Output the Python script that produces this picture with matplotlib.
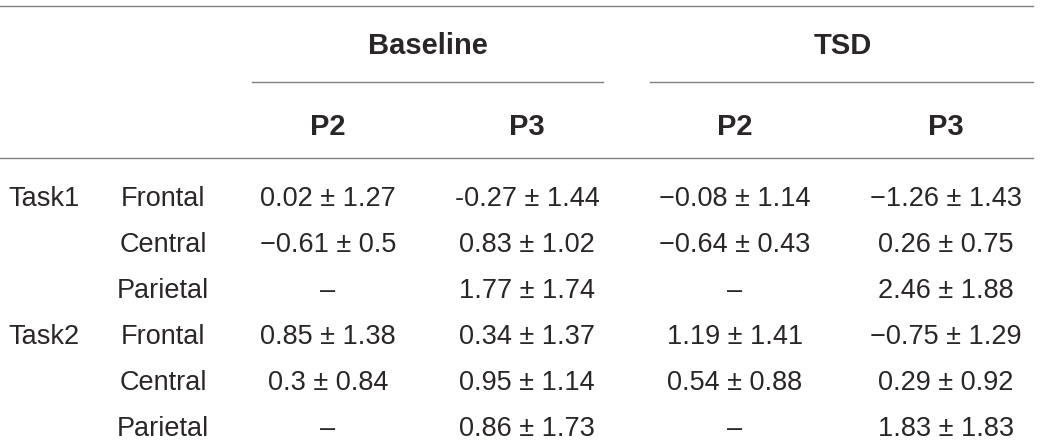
import matplotlib
matplotlib.use("Agg")
import matplotlib.pyplot as plt

groups = ["Baseline", "TSD"]
components = ["P2", "P3", "P2", "P3"]
tasks = ["Task1", "", "", "Task2", "", ""]
regions = ["Frontal", "Central", "Parietal", "Frontal", "Central", "Parietal"]
baseline_p2 = ["0.02 \u00b1 1.27", "\u22120.61 \u00b1 0.5", "\u2013", "0.85 \u00b1 1.38", "0.3 \u00b1 0.84", "\u2013"]
baseline_p3 = ["-0.27 \u00b1 1.44", "0.83 \u00b1 1.02", "1.77 \u00b1 1.74", "0.34 \u00b1 1.37", "0.95 \u00b1 1.14", "0.86 \u00b1 1.73"]
tsd_p2 = ["\u22120.08 \u00b1 1.14", "\u22120.64 \u00b1 0.43", "\u2013", "1.19 \u00b1 1.41", "0.54 \u00b1 0.88", "\u2013"]
tsd_p3 = ["\u22121.26 \u00b1 1.43", "0.26 \u00b1 0.75", "2.46 \u00b1 1.88", "\u22120.75 \u00b1 1.29", "0.29 \u00b1 0.92", "1.83 \u00b1 1.83"]

W, H = 1040, 447
fig = plt.figure(figsize=(W / 100, H / 100), dpi=100)
ax = fig.add_axes([0, 0, 1, 1])
ax.set_xlim(0, W)
ax.set_ylim(H, 0)
ax.axis("off")

font = "Liberation Sans"
txt_color = "#2a2627"
line_color = "#808080"
fs = 19.5
hfs = 21

# horizontal rules
ax.plot([0, 1033], [5.5, 5.5], color=line_color, lw=1.0)
ax.plot([252, 603], [82, 82], color=line_color, lw=1.0)
ax.plot([650, 1033], [82, 82], color=line_color, lw=1.0)
ax.plot([0, 1033], [158, 158], color=line_color, lw=1.0)

# group headers
group_x = [428, 843]
for g, x in zip(groups, group_x):
    ax.text(x, 43, g, ha="center", va="center_baseline", fontsize=hfs, fontweight="bold",
            family=font, color=txt_color)

col_x = [328, 527, 735, 946]
for c, x in zip(components, col_x):
    ax.text(x, 124, c, ha="center", va="center_baseline", fontsize=hfs, fontweight="bold",
            family=font, color=txt_color)

row_y = [196, 242, 288, 334, 380, 426]
columns = [baseline_p2, baseline_p3, tsd_p2, tsd_p3]
for i, y in enumerate(row_y):
    if tasks[i]:
        ax.text(8, y, tasks[i], ha="left", va="center_baseline", fontsize=fs,
                family=font, color=txt_color)
    ax.text(163, y, regions[i], ha="center", va="center_baseline", fontsize=fs,
            family=font, color=txt_color)
    for col, x in zip(columns, col_x):
        ax.text(x, y, col[i], ha="center", va="center_baseline", fontsize=fs,
                family=font, color=txt_color)

fig.savefig("out.png", dpi=100)
